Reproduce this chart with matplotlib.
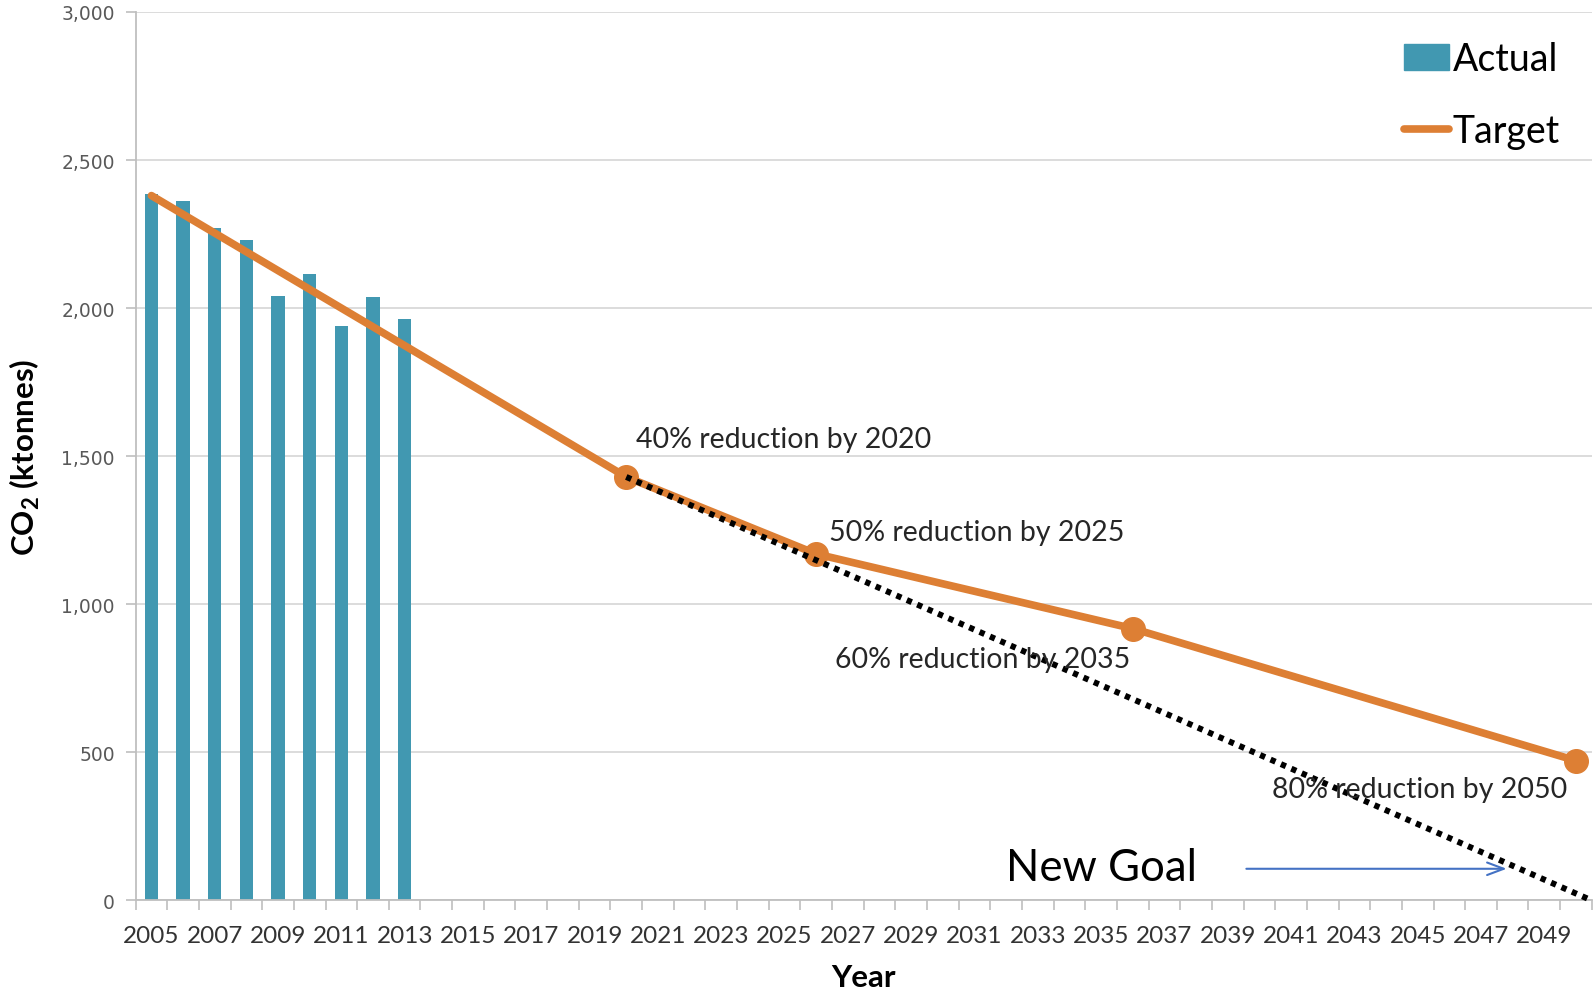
import numpy as np
import matplotlib.pyplot as plt
from matplotlib.ticker import FuncFormatter, MultipleLocator, FixedLocator
from matplotlib.patches import Patch
from matplotlib.lines import Line2D

plt.rcParams['font.family'] = ['Lato', 'DejaVu Sans']
plt.rcParams['mathtext.fontset'] = 'custom'
plt.rcParams['mathtext.rm'] = 'Lato'
plt.rcParams['mathtext.bf'] = 'Lato:bold'

# Data
actual_years = [2005, 2006, 2007, 2008, 2009, 2010, 2011, 2012, 2013]
actual = [2385, 2360, 2272, 2231, 2042, 2116, 1940, 2037, 1963]

target_years = [2005, 2020, 2026, 2036, 2050]
target = [2380, 1430, 1170, 918, 472]

goal_years = [2020, 2050.5]
goal = [1430, 0]

milestones = ["40% reduction by 2020", "50% reduction by 2025",
              "60% reduction by 2035", "80% reduction by 2050"]
milestone_pos = [(2020.3, 1557), (2026.4, 1244), (2026.6, 814), (2040.4, 375)]

BAR = "#4198B1"
ORANGE = "#DD7F34"
GRID = "#D9D9D9"

fig = plt.figure(figsize=(15.95, 9.95), dpi=100)
ax = fig.add_axes([0.085, 0.094, 0.913, 0.893])

ax.bar(actual_years, actual, width=0.42, color=BAR, zorder=2)
ax.plot(target_years, target, color=ORANGE, lw=5.5, solid_capstyle='round', zorder=3)
ax.plot(target_years[1:], target[1:], 'o', color=ORANGE, ms=17, zorder=3)
# new goal: straight dotted line down to zero at the right edge
ax.plot(goal_years, goal, color='black', lw=4.3, dashes=(0.9, 1.0), zorder=4,
        clip_on=False)

for txt, (x, y) in zip(milestones, milestone_pos):
    ax.text(x, y, txt, fontsize=20.5, color='#262626', va='center', ha='left', zorder=5)

ax.text(2032.0, 113, "New Goal", fontsize=31.5, color='black', va='center', ha='left')
ax.annotate("", xy=(2047.9, 107), xytext=(2039.5, 107),
            arrowprops=dict(arrowstyle='->,head_length=1.2,head_width=0.45',
                            color='#4472C4', lw=1.5))

ax.set_xlim(2004.5, 2050.5)
ax.set_ylim(0, 3000)

ax.xaxis.set_major_locator(FixedLocator(np.arange(2005, 2051, 2)))
ax.xaxis.set_minor_locator(FixedLocator(np.arange(2004.5, 2051, 1)))
ax.tick_params(axis='x', which='major', length=0, pad=18, labelsize=17.5,
               labelcolor='#333333')
ax.tick_params(axis='x', which='minor', length=7, width=1.2, color='#BFBFBF')

ax.yaxis.set_major_locator(MultipleLocator(500))
ax.yaxis.set_major_formatter(FuncFormatter(lambda v, p: f"{int(v):,}"))
ax.tick_params(axis='y', length=7, width=1.2, color='#BFBFBF', pad=8,
               labelcolor='#595959')
for lab in ax.get_yticklabels():
    lab.set_fontfamily('DejaVu Sans')
    lab.set_fontsize(13.5)

ax.grid(axis='y', color=GRID, lw=1.3, zorder=0)
ax.set_axisbelow(True)
for s in ['top', 'right']:
    ax.spines[s].set_visible(False)
ax.spines['left'].set_color('#BFBFBF')
ax.spines['bottom'].set_color('#BFBFBF')
ax.spines['left'].set_linewidth(1.3)
ax.spines['bottom'].set_linewidth(1.3)

ax.set_xlabel("Year", fontsize=22.5, fontweight='bold', labelpad=12)
ax.set_ylabel(r"CO$_\mathbf{2}$ (ktonnes)", fontsize=22.5, fontweight='bold', labelpad=14)

handles = [Patch(facecolor=BAR, edgecolor=BAR),
           Line2D([0], [0], color=ORANGE, lw=5.5, solid_capstyle='round')]
ax.legend(handles, ["Actual", "Target"], loc='upper left',
          bbox_to_anchor=(0.848, 1.005), frameon=False, fontsize=27,
          handlelength=1.2, handletextpad=0.1, labelspacing=0.95)

fig.savefig("out.png", dpi=100)
